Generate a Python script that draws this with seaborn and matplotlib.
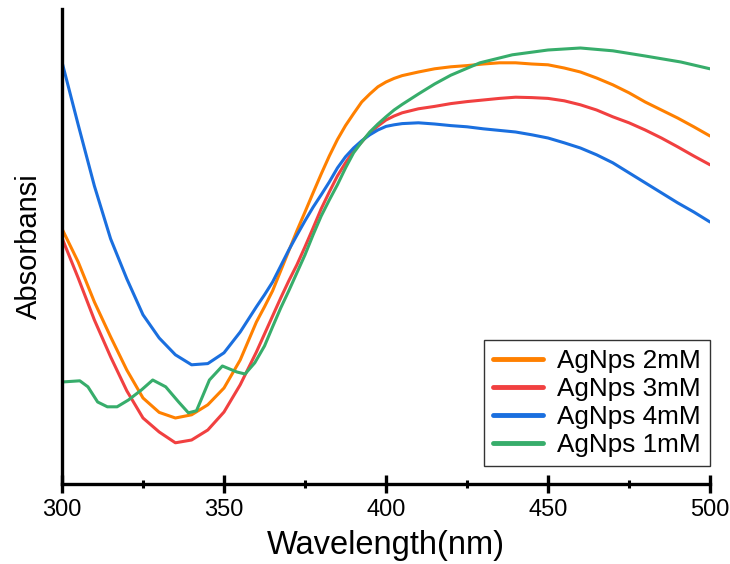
import matplotlib.pyplot as plt
from matplotlib.ticker import MultipleLocator
import pandas as pd
import seaborn as sns


sns.set_theme(style="white")
plt.rcParams["font.family"] = ["Liberation Sans", "DejaVu Sans"]
plt.rcParams["text.color"] = "black"
plt.rcParams["axes.labelcolor"] = "black"
plt.rcParams["xtick.color"] = "black"

# wavelength grid (nm) shared by the 2, 3 and 4 mM spectra (finer on the steep rise)
wavelength = [300, 305, 310, 315, 320, 325, 330, 335, 340, 345, 350, 355, 360,
              362.5, 365, 367.5, 370, 372.5, 375, 377.5, 380, 382.5, 385, 387.5, 390,
              392.5, 395, 397.5, 400, 402.5, 405, 410, 415, 420, 425, 430, 435, 440,
              445, 450, 455, 460, 465, 470, 475, 480, 485, 490, 495, 500]

abs_2mm = [0.638, 0.555, 0.455, 0.368, 0.285, 0.215, 0.179, 0.165, 0.173, 0.198, 0.240,
           0.310, 0.405, 0.443, 0.483, 0.533, 0.583, 0.633, 0.680, 0.728, 0.775, 0.820,
           0.861, 0.896, 0.926, 0.955, 0.975, 0.993, 1.005, 1.014, 1.021, 1.030, 1.038,
           1.043, 1.046, 1.050, 1.053, 1.053, 1.050, 1.048, 1.040, 1.030, 1.015, 0.998,
           0.978, 0.955, 0.935, 0.915, 0.893, 0.870]

abs_3mm = [0.615, 0.515, 0.410, 0.318, 0.233, 0.165, 0.130, 0.103, 0.110, 0.135, 0.180,
           0.248, 0.330, 0.375, 0.420, 0.465, 0.508, 0.548, 0.593, 0.640, 0.688, 0.730,
           0.770, 0.803, 0.833, 0.855, 0.878, 0.895, 0.910, 0.920, 0.928, 0.938, 0.944,
           0.951, 0.956, 0.960, 0.964, 0.967, 0.966, 0.964, 0.958, 0.948, 0.935, 0.918,
           0.903, 0.885, 0.865, 0.843, 0.820, 0.798]

abs_4mm = [1.055, 0.898, 0.745, 0.613, 0.513, 0.423, 0.365, 0.323, 0.298, 0.301, 0.328,
           0.380, 0.443, 0.473, 0.505, 0.545, 0.585, 0.622, 0.658, 0.692, 0.723, 0.755,
           0.790, 0.818, 0.840, 0.858, 0.873, 0.885, 0.894, 0.898, 0.901, 0.903, 0.900,
           0.896, 0.893, 0.888, 0.884, 0.880, 0.873, 0.865, 0.853, 0.840, 0.823, 0.803,
           0.778, 0.753, 0.728, 0.703, 0.680, 0.655]

# the 1 mM spectrum is wavier, so it is read on its own points
wavelength_1mm = [300, 305.5, 308, 311, 314, 317, 320.5, 324.5, 328, 332, 336, 339, 341.5,
                  345.5, 349.5, 354, 356.5, 359.5, 362.5, 365, 367.5, 370, 372.5, 375,
                  377.5, 380, 382.5, 385, 387.5, 390, 392.5, 395, 397.5, 400, 402.5, 405,
                  410, 415, 420, 429, 439, 450, 460, 470, 480, 491, 500]
abs_1mm = [0.255, 0.258, 0.243, 0.205, 0.193, 0.193, 0.210, 0.235, 0.260, 0.243, 0.205,
           0.178, 0.183, 0.260, 0.295, 0.280, 0.275, 0.303, 0.345, 0.393, 0.440, 0.483,
           0.528, 0.573, 0.623, 0.670, 0.710, 0.748, 0.790, 0.828, 0.855, 0.880, 0.900,
           0.918, 0.935, 0.949, 0.975, 1.000, 1.022, 1.053, 1.073, 1.085, 1.090, 1.083,
           1.070, 1.055, 1.038]

labels = ["AgNps 2mM", "AgNps 3mM", "AgNps 4mM", "AgNps 1mM"]
palette = {
    "AgNps 2mM": "#FF8000",
    "AgNps 3mM": "#F14040",
    "AgNps 4mM": "#1A6FDF",
    "AgNps 1mM": "#37AD6B",
}


def make_frame() -> pd.DataFrame:
    frames = [
        pd.DataFrame({"Wavelength": wavelength, "Absorbance": abs_2mm, "Sample": labels[0]}),
        pd.DataFrame({"Wavelength": wavelength, "Absorbance": abs_3mm, "Sample": labels[1]}),
        pd.DataFrame({"Wavelength": wavelength, "Absorbance": abs_4mm, "Sample": labels[2]}),
        pd.DataFrame({"Wavelength": wavelength_1mm, "Absorbance": abs_1mm, "Sample": labels[3]}),
    ]
    return pd.concat(frames, ignore_index=True)


def main() -> None:
    df = make_frame()
    fig = plt.figure(figsize=(7.3, 5.64), dpi=100)
    ax = fig.add_axes([62 / 730, 1 - 484 / 564, 648 / 730, 475 / 564])

    sns.lineplot(data=df, x="Wavelength", y="Absorbance", hue="Sample", hue_order=labels,
                 palette=palette, linewidth=2.2, estimator=None, sort=True, ax=ax)

    ax.set_xlim(300, 500)
    ax.set_ylim(0, 1.1875)
    ax.xaxis.set_major_locator(MultipleLocator(50))
    ax.xaxis.set_minor_locator(MultipleLocator(25))
    ax.set_yticks([])
    ax.tick_params(axis="x", which="major", direction="inout", length=13, width=2.4,
                   color="black", labelcolor="black", labelsize=17, pad=4, bottom=True)
    ax.tick_params(axis="x", which="minor", direction="inout", length=6, width=2.2,
                   color="black", bottom=True)

    for side in ["top", "right"]:
        ax.spines[side].set_visible(False)
    for side in ["left", "bottom"]:
        ax.spines[side].set_linewidth(2.4)
        ax.spines[side].set_color("black")

    ax.set_xlabel("Wavelength(nm)", fontsize=23.5, labelpad=7)
    ax.set_ylabel("Absorbansi", fontsize=21, labelpad=14)

    leg = ax.legend(loc="lower right", bbox_to_anchor=(1.0, 18 / 475), borderaxespad=0,
                    fontsize=18.8, frameon=True, fancybox=False, edgecolor="black",
                    handlelength=1.9, handletextpad=0.55, labelspacing=0.15,
                    borderpad=0.35, title=None)
    leg.get_frame().set_linewidth(1.0)
    for line in leg.get_lines():
        line.set_linewidth(3.5)

    fig.savefig("out.png", dpi=100)
    plt.close(fig)


if __name__ == "__main__":
    main()
